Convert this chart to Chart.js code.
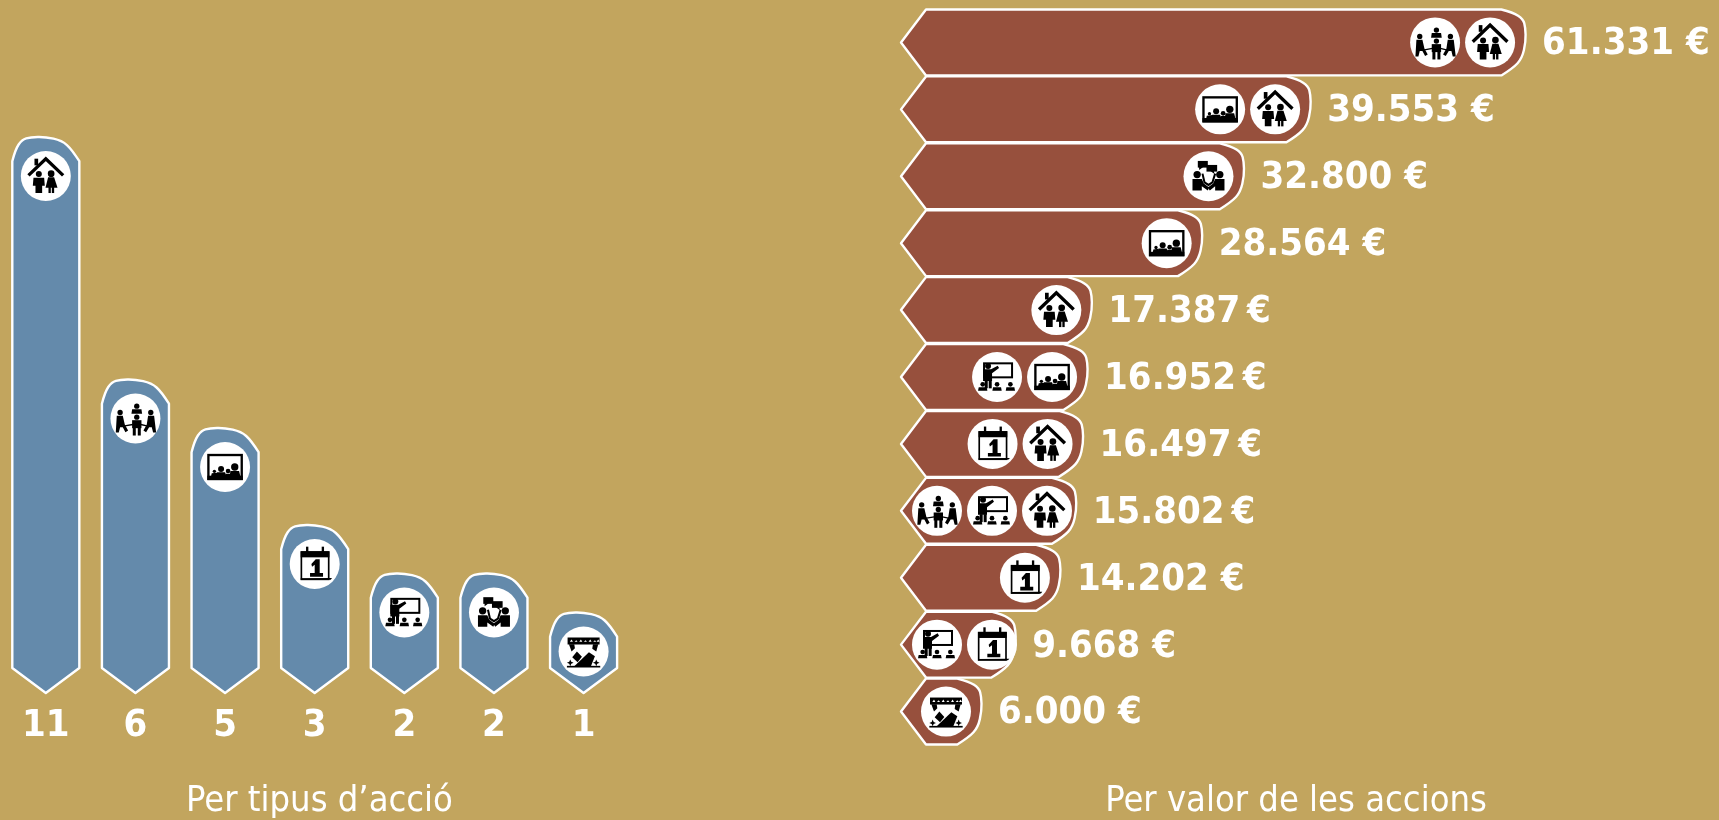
<!DOCTYPE html>
<html><head><meta charset="utf-8">
<script src="https://cdn.jsdelivr.net/npm/chart.js@4"></script>
<style>
html,body{margin:0;padding:0;background:#C2A55E;width:1719px;height:820px;overflow:hidden}
canvas{position:absolute;top:0}
#a{left:1px}#b{left:873px}
</style></head><body>
<canvas id="a" width="637" height="820"></canvas>
<canvas id="b" width="846" height="820"></canvas>
<script>
// ---- data ----
const actionTypes = ['home','meeting','screen','calendar','teacher','dialogue','stage'];
const actionCounts = [11,6,5,3,2,2,1];
const actionTitle = 'Per tipus d\u2019acció';

const amounts = [61331,39553,32800,28564,17387,16952,16497,15802,14202,9668,6000];
const amountLabels = ['61.331 €','39.553 €','32.800 €','28.564 €','17.387\u2009€','16.952\u2009€','16.497\u2009€','15.802\u2009€','14.202 €','9.668 €','6.000 €'];
const amountIcons = [['meeting','home'],['screen','home'],['dialogue'],['screen'],['home'],['teacher','screen'],['calendar','home'],['meeting','teacher','home'],['calendar'],['teacher','calendar'],['stage']];
const amountTitle = 'Per valor de les accions';

const TAN='#C2A55E', BLUE='#648AAB', BROWN='#97503D', WHITE='#FFFFFF';
const FAMILY="'DejaVu Sans Condensed','DejaVu Sans'";
const BOLD="bold 38px "+FAMILY;

// ---- bar shape: the library's bar element, drawn as a pointed tag with a rounded cap ----
const CAP=[[0,24.7],[.045,13],[.145,3],[.27,.7],[.49,.3],[.74,4],[.89,13],[1,24.7]];
const TIP=25, MIN_LEN=81;
function geom(el){
  const p=el.getProps(['x','y','base','width','height','horizontal'],true);
  const h=p.horizontal, sign=h?(p.x>=p.base?1:-1):(p.y<=p.base?-1:1);
  const len=Math.max(Math.abs((h?p.x:p.y)-p.base),MIN_LEN);
  const head=p.base+sign*len, t=h?p.height:p.width, c=h?p.y:p.x;
  return {h,sign,len,head,t,c,base:p.base};
}
Chart.BarElement.prototype.draw=function(ctx){
  const g=geom(this), o=this.options;
  const pt=(u,d)=>{const a=g.c-g.t/2+u*g.t,b=g.head-g.sign*d;return g.h?[b,a]:[a,b];};
  ctx.save();ctx.beginPath();
  const cap=CAP.map(q=>pt(q[0],q[1]));
  ctx.moveTo(cap[0][0],cap[0][1]);
  for(let i=1;i<cap.length-1;i++){
    const a=cap[i],b=cap[i+1],last=i===cap.length-2;
    const mx=last?b[0]:(a[0]+b[0])/2,my=last?b[1]:(a[1]+b[1])/2;
    ctx.quadraticCurveTo(a[0],a[1],mx,my);
  }
  let v=pt(1,g.len-TIP);ctx.lineTo(v[0],v[1]);
  v=pt(.5,g.len);ctx.lineTo(v[0],v[1]);
  v=pt(0,g.len-TIP);ctx.lineTo(v[0],v[1]);
  ctx.closePath();
  ctx.fillStyle=o.backgroundColor;ctx.fill();
  ctx.lineWidth=o.borderWidth;ctx.strokeStyle=o.borderColor;ctx.lineJoin='round';ctx.stroke();
  ctx.restore();
};

// ---- icons, in a 168-unit box centred on 84,84 ----
function iconKit(ctx){return{
  r:(x,y,w,h)=>ctx.fillRect(x,y,w,h),
  c:(x,y,r)=>{ctx.beginPath();ctx.arc(x,y,r,0,7);ctx.fill();},
  l:(pts,w)=>{ctx.lineWidth=w;ctx.beginPath();pts.forEach((q,i)=>i?ctx.lineTo(q[0],q[1]):ctx.moveTo(q[0],q[1]));ctx.stroke();},
  p:(pts)=>{ctx.beginPath();pts.forEach((q,i)=>i?ctx.lineTo(q[0],q[1]):ctx.moveTo(q[0],q[1]));ctx.closePath();ctx.fill();},
  s:(x,y,w,h,lw)=>{ctx.lineWidth=lw;ctx.strokeRect(x,y,w,h);}
};}
const ICONS={
 home(k){
  k.l([[32,82],[84,32],[136,82]],10); k.r(50,32,11,20);
  k.c(63,78,9); k.p([[47,89],[79,89],[81,113],[73,113],[73,135],[53,135],[53,113],[45,113]]);
  k.c(100,77,10); k.p([[91,88],[109,88],[119,119],[83,119]]); k.r(92,117,7,18); k.r(102,117,7,18);
 },
 meeting(k){
  k.c(88,47,8); k.p([[74,56],[102,56],[104,70],[72,70]]);
  k.c(88,80,8); k.r(74,89,28,24); k.r(76,111,9,24); k.r(91,111,9,24);
  k.c(38,66,8); k.p([[28,76],[46,76],[52,102],[62,120],[54,125],[46,110],[38,110],[34,126],[25,126]]);
  k.c(130,66,8); k.p([[122,76],[140,76],[146,126],[137,126],[133,110],[125,110],[116,125],[108,120],[118,102]]);
  k.l([[52,106],[76,102]],4); k.l([[100,102],[118,106]],4);
 },
 screen(k){
  k.s(34,48,100,72,7); k.r(31,110,106,13);
  k.c(72,90,9); k.c(93,96,7); k.c(113,84,11);
  k.c(52,97,5);
  k.p([[42,112],[44,103],[60,101],[62,112]]);
  k.p([[58,112],[60,100],[84,100],[88,112]]);
  k.p([[84,112],[86,104],[102,104],[104,112]]);
  k.p([[98,112],[100,96],[126,96],[130,112]]);
 },
 calendar(k){
  k.s(44,48,82,82,5); k.r(42,46,86,18);
  k.r(58,32,7,22); k.r(105,32,7,22);
  k.p([[42,131],[132,131],[136,126],[127,126],[42,127]]);
  k.p([[74,84],[87,70],[99,70],[99,111],[109,111],[109,122],[70,122],[70,111],[84,111],[84,86],[76,92]]);
 },
 teacher(k){
  k.s(45,43,84,42,6);
  k.c(57,51,9); k.p([[42,61],[66,61],[86,50],[90,57],[69,73],[69,96],[42,96]]);
  k.r(47,94,9,24); k.r(59,94,9,24);
  [41,84,124].forEach(x=>{k.c(x,106,7);k.p([[x-14,125],[x-12,115],[x+12,115],[x+14,125]]);});
 },
 dialogue(k){
  k.r(52,38,30,20); k.p([[56,56],[68,56],[56,65]]);
  k.r(78,50,32,20); k.p([[90,68],[100,68],[102,77]]);
  k.l([[66,76],[72,102],[84,110],[96,102],[104,76]],6);
  k.c(50,79,11); k.p([[36,92],[64,92],[70,106],[86,118],[82,127],[64,114],[64,127],[36,127]]);
  k.c(118,79,11); k.p([[104,92],[132,92],[132,127],[104,127],[104,114],[88,127],[82,118],[98,106]]);
 },
 stage(k,ctx){
  k.r(36,42,96,21);
  ctx.save();ctx.fillStyle=WHITE;[43,57,71,85,99,113,123].forEach((x,i)=>k.p([[x,55],[x+5,48+i%2*2],[x+9,55]]));ctx.restore();
  k.p([[40,62],[56,62],[58,74],[48,84]]); k.p([[112,62],[128,62],[122,84],[110,76]]);
  k.p([[64,84],[79,100],[66,116],[50,101]]);
  k.p([[100,86],[118,98],[106,128],[56,128]]);
  k.r(34,127,100,5);
  k.p([[44,108],[47,115],[54,118],[47,121],[44,128],[41,121],[34,118],[41,115]]);
  k.p([[122,108],[125,115],[132,118],[125,121],[122,128],[119,121],[112,118],[119,115]]);
 }
};
function drawIcon(ctx,name,x,y){
  ctx.save();
  ctx.fillStyle=WHITE;ctx.beginPath();ctx.arc(x,y,25,0,7);ctx.fill();
  ctx.translate(x,y);ctx.scale(1/3,1/3);ctx.translate(-84,-84);
  ctx.fillStyle='#000';ctx.strokeStyle='#000';ctx.lineJoin='miter';
  ICONS[name](iconKit(ctx),ctx);
  ctx.restore();
}
const marksPlugin={id:'marks',afterDatasetsDraw(chart){
  const ctx=chart.ctx, ds=chart.data.datasets[0], els=chart.getDatasetMeta(0).data;
  els.forEach((el,i)=>{
    const g=geom(el);
    if(g.h){
      const names=ds.icons[i], n=names.length, start=g.base+TIP+11;
      const last=Math.max(g.head-36,start+55*(n-1));
      names.forEach((nm,j)=>drawIcon(ctx,nm,last-55*(n-1-j),g.c));
      ctx.save();ctx.font=BOLD;ctx.fillStyle=WHITE;ctx.textBaseline='middle';ctx.textAlign='left';
      ctx.fillText(ds.valueLabels[i],g.head+16,g.c+2);ctx.restore();
    }else{
      drawIcon(ctx,ds.icons[i],g.c,g.head+39.5);
    }
  });
}};

const titleOpts=(text,top)=>({display:true,text,position:'bottom',color:WHITE,padding:{top,bottom:-3.6},
  font:{family:FAMILY,size:36,weight:'normal',lineHeight:1.2}});
const hiddenAxis=(position,width,extra)=>Object.assign({display:true,position,
  ticks:{display:false},grid:{display:false},border:{display:false},
  afterFit(s){s.width=width;}},extra);

new Chart(document.getElementById('a'),{
  type:'bar',plugins:[marksPlugin],
  data:{labels:actionTypes,datasets:[{data:actionCounts,icons:actionTypes,base:-0.474,clip:false,
    backgroundColor:BLUE,borderColor:WHITE,borderWidth:2.4,barPercentage:.748,categoryPercentage:1}]},
  options:{responsive:false,animation:false,
    layout:{padding:0},
    plugins:{legend:{display:false},tooltip:{enabled:false},title:titleOpts(actionTitle,30)},
    scales:{
      y:hiddenAxis('right',9.6,{min:-0.474,max:13.815}),
      x:{grid:{display:false},border:{display:false},
        afterFit(s){s.height=57.4;},
        ticks:{color:WHITE,padding:2,maxRotation:0,autoSkip:false,
          font:{family:FAMILY,size:38,weight:'bold',lineHeight:1.2},
          callback:(v,i)=>String(actionCounts[i])}}
    }}
});

new Chart(document.getElementById('b'),{
  type:'bar',plugins:[marksPlugin],
  data:{labels:amountLabels,datasets:[{data:amounts,icons:amountIcons,valueLabels:amountLabels,base:-2000,clip:false,
    backgroundColor:BROWN,borderColor:WHITE,borderWidth:2.4,barPercentage:.985,categoryPercentage:1}]},
  options:{indexAxis:'y',responsive:false,animation:false,
    layout:{padding:{left:0,right:0,top:9,bottom:0}},
    plugins:{legend:{display:false},tooltip:{enabled:false},title:titleOpts(amountTitle,35.4)},
    scales:{
      x:{display:false,min:-2000,max:80877},
      y:hiddenAxis('left',28)
    }}
});
</script>
</body></html>
